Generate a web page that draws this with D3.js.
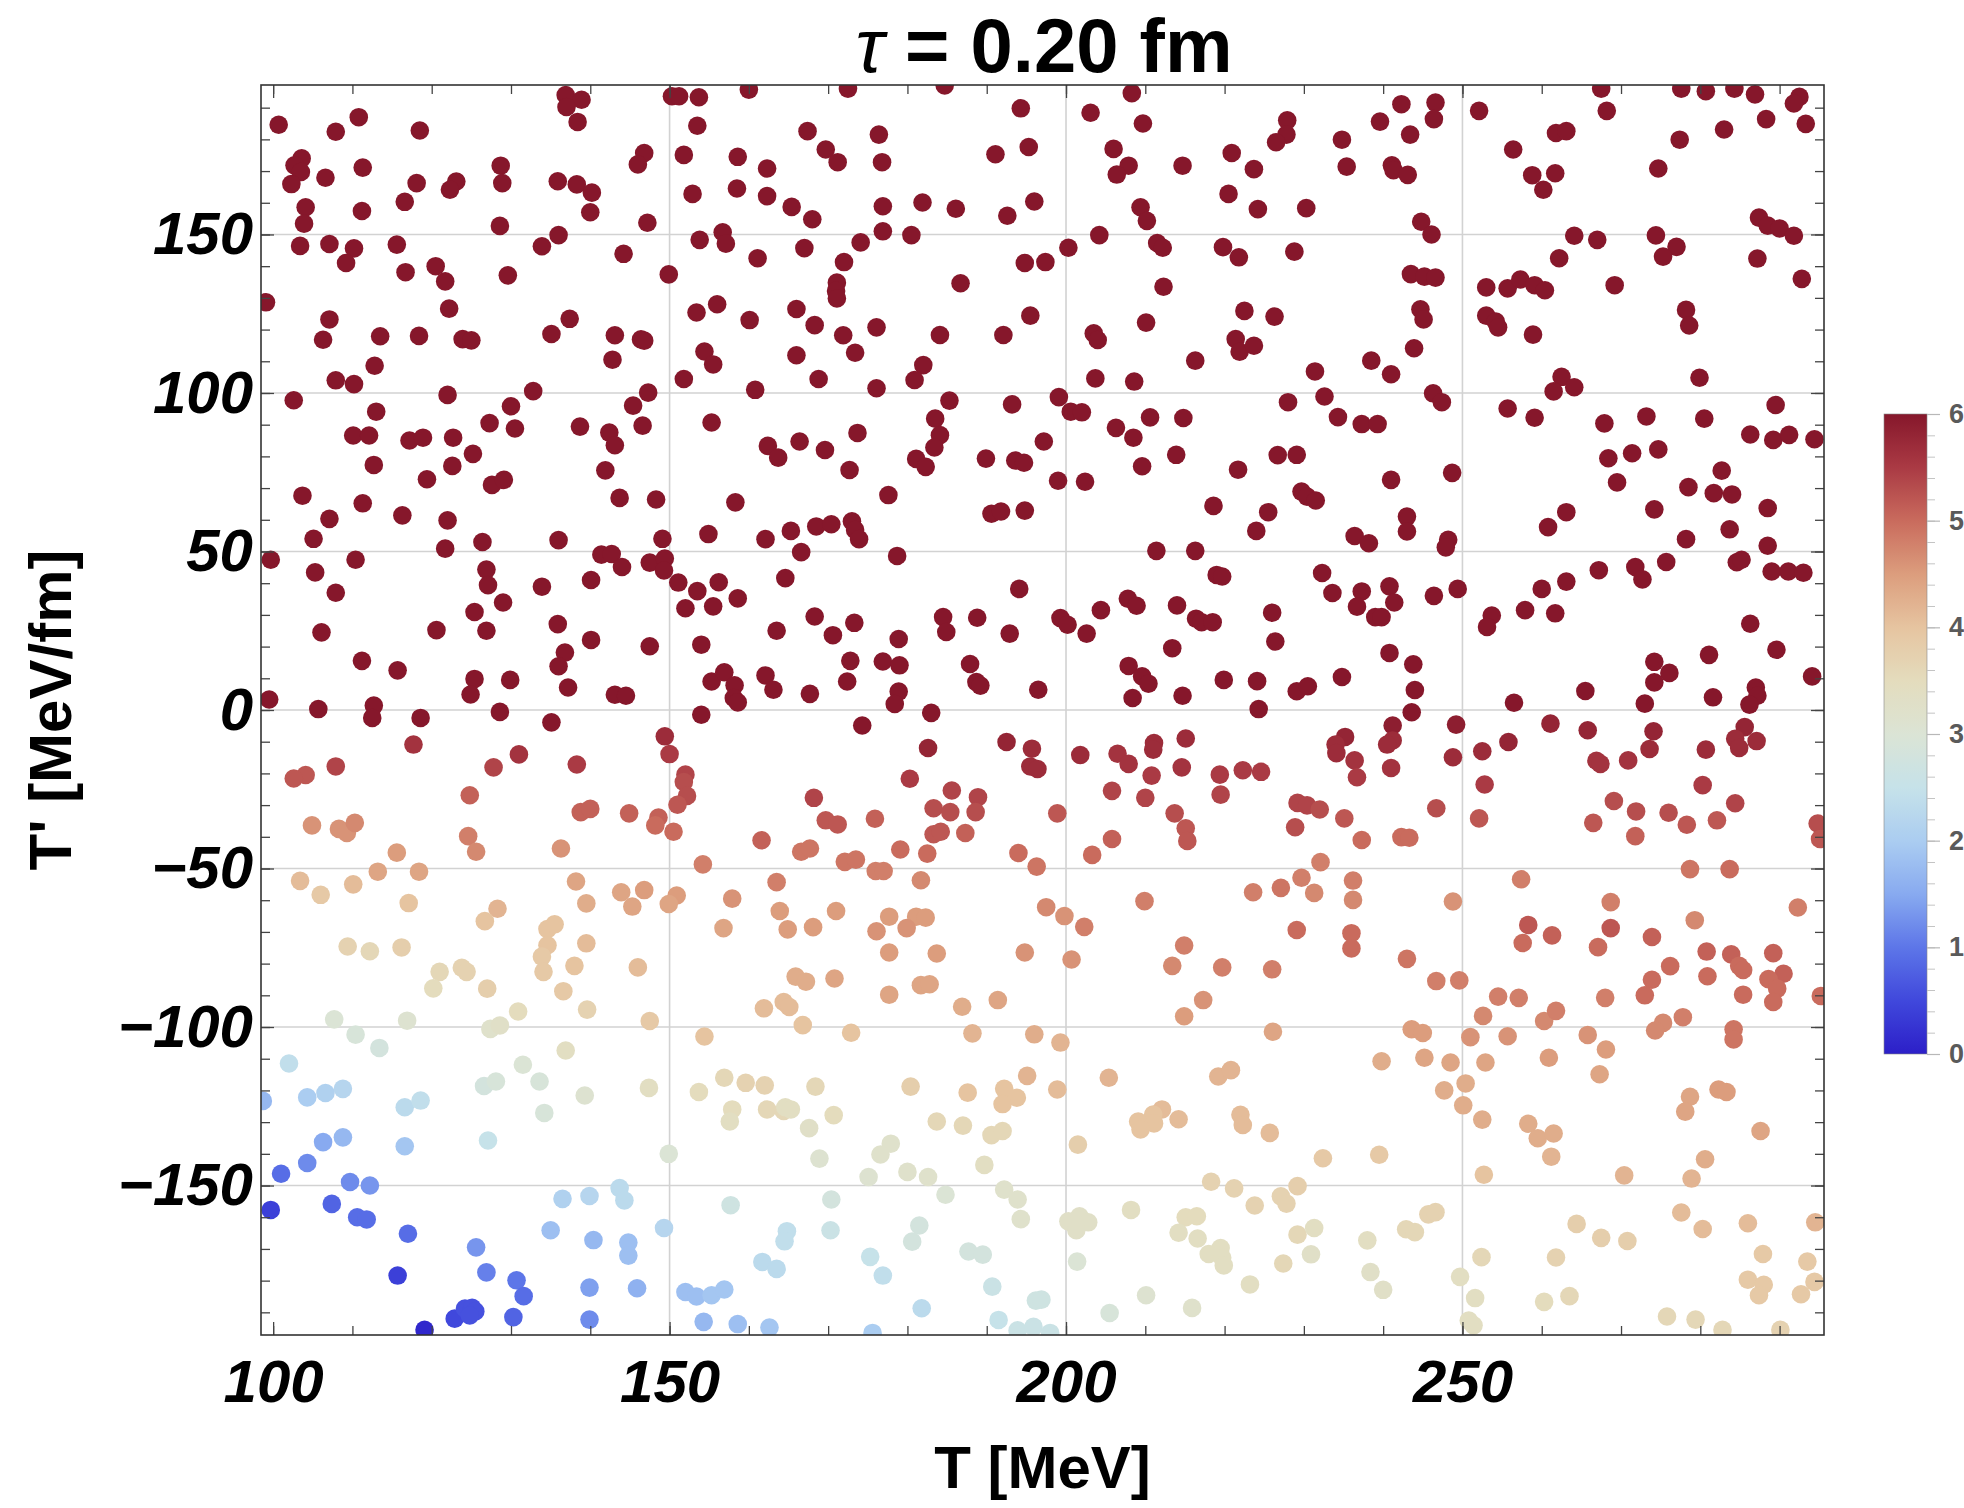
<!DOCTYPE html>
<html><head><meta charset="utf-8">
<script src="https://cdn.jsdelivr.net/npm/d3@7"></script>
<style>body{margin:0;background:#fff;} svg{display:block;font-family:"Liberation Sans",Arial,sans-serif;}</style>
</head><body>
<svg id="chart" width="1964" height="1508"></svg>
<script>
// ---------------- data ----------------
const titleSymbol = "τ";
const titleText = " = 0.20 fm";
const xAxisTitle = "T [MeV]";
const yAxisTitle = "T' [MeV/fm]";
const xTickLabels = [100, 150, 200, 250];
const yTickLabels = [-150, -100, -50, 0, 50, 100, 150];
const xGridValues = [150, 200, 250];
const yGridValues = [-150, -100, -50, 0, 50, 100, 150];
const xMinorTicks = d3.range(100, 300, 10);
const yMinorTicks = d3.range(-190, 200, 10);
const colorbarTicks = [0, 1, 2, 3, 4, 5, 6];
const colorbarMinor = d3.range(0, 6.01, 0.2);
const colorStopValues = [0, 0.5, 1, 1.5, 2, 2.5, 3, 3.5, 4, 4.5, 5, 5.5, 6];
const colorStopColors = ["#2c1fc8","#4048dc","#5d76e8","#88aaf0","#abcdf1","#c6e2e9","#dbe4d5","#e4dcbd","#e6c4a0","#dc9d7d","#c96b5d","#aa3a44","#86172b"];

// each point: [T (MeV), T' (MeV/fm), colour value]
const pointsUpperLeft = [[100.7,184.6,6],[110.8,187,6],[107.9,182.4,6],[118.5,182.8,6],[136.9,194,6],[138.9,192.5,6],[137,190.2,6],[138.4,185.5,6],[150.3,193.6,6],[151.2,193.6,6],[153.7,193.3,6],[160,195.7,6],[153.5,184.3,6],[103.6,174,6],[102.7,171.8,6],[103.5,169.7,6],[102.3,165.9,6],[106.6,167.9,6],[111.3,171.1,6],[104.1,158.6,6],[103.9,153.4,6],[111.2,157.4,6],[116.6,160.3,6],[118.1,166.2,6],[123.1,166.7,6],[122.3,164.1,6],[128.7,171.7,6],[128.9,166.2,6],[128.6,152.7,6],[135.9,166.8,6],[138.3,165.8,6],[140.2,163.2,6],[140,157,6],[146.8,175.7,6],[146,172.1,6],[147.2,153.7,6],[151.8,175.1,6],[152.9,162.8,6],[158.6,174.5,6],[158.5,164.5,6],[162.3,170.8,6],[162.3,162.1,6],[153.8,148.3,6],[156.7,150.7,6],[157.1,147.1,6],[161.1,142.5,6],[103.4,146.4,6],[107.1,147,6],[110.2,145.6,6],[109.2,141,6],[115.6,146.8,6],[116.7,138.1,6],[120.5,140,6],[121.7,135.2,6],[129.6,137.1,6],[133.9,146.3,6],[136,149.8,6],[144.2,143.9,6],[149.9,137.4,6],[99.1,128.6,6],[122.2,126.6,6],[107.1,123.2,6],[106.3,116.8,6],[113.5,117.9,6],[118.4,118,6],[123.9,117,6],[125,116.6,6],[135.1,118.6,6],[137.4,123.4,6],[143.1,118.2,6],[146.4,116.9,6],[146.8,116.5,6],[153.4,125.4,6],[156,128,6],[160.1,123,6],[142.8,110.5,6],[154.4,113.1,6],[155.5,109,6],[151.8,104.4,6],[160.8,101,6],[112.8,108.6,6],[107.9,104,6],[110.2,102.8,6],[102.6,97.7,6],[122,99.4,6],[132.8,100.6,6],[147.3,100.1,6],[145.4,96,6],[113,94.1,6],[130,95.8,6],[127.3,90.5,6],[130.5,88.8,6],[138.7,89.4,6],[142.4,87.5,6],[143.1,83.5,6],[146.6,89.7,6],[155.3,90.7,6],[110.1,86.6,6],[112.1,86.6,6],[117.2,85,6],[118.9,85.9,6],[122.7,85.9,6],[125.2,80.8,6],[112.7,77.3,6],[122.6,77,6],[119.4,72.8,6],[127.6,71,6],[129.1,72.6,6],[141.9,75.6,6],[162.4,83.3,6],[163.7,79.6,6],[103.7,67.6,6],[111.3,65.2,6],[143.7,66.9,6],[148.3,66.4,6],[158.3,65.5,6]];
const pointsUpperMid = [[172.5,196,6],[184.7,197,6],[208.3,194.6,6],[194.3,189.8,6],[203.1,188.4,6],[209.7,185,6],[167.4,182.6,6],[169.7,176.8,6],[171.2,172.8,6],[176.4,181.5,6],[176.8,172.8,6],[191.1,175.3,6],[195.3,177.6,6],[206,177,6],[207.9,171.7,6],[206.4,168.9,6],[214.7,171.7,6],[220.9,175.7,6],[223.7,170.6,6],[227.9,186,6],[227.8,181.5,6],[226.5,179.1,6],[220.5,162.8,6],[224.2,158,6],[165.4,158.7,6],[168,154.8,6],[176.9,158.9,6],[181.9,160.1,6],[186.1,158.1,6],[192.6,155.9,6],[196,160.4,6],[209.4,158.6,6],[210.2,154.3,6],[176.9,151,6],[180.5,149.8,6],[174.1,147.5,6],[167,145.7,6],[172,141.3,6],[204.2,149.8,6],[200.3,145.8,6],[194.8,141,6],[197.4,141.3,6],[211.5,147.3,6],[212.2,145.8,6],[219.8,146,6],[221.8,142.8,6],[228.8,144.6,6],[186.7,134.6,6],[212.3,133.5,6],[171.1,134.8,6],[171,132.2,6],[171.1,129.8,6],[166,126.5,6],[168.3,121.4,6],[171.9,118.2,6],[176.1,120.7,6],[173.4,112.7,6],[166,111.9,6],[168.8,104.4,6],[184.1,118.3,6],[182,108.8,6],[180.9,104.1,6],[176.1,101.5,6],[192.1,118.3,6],[195.5,124.4,6],[203.5,118.8,6],[204,116.7,6],[210.1,122.2,6],[222.5,125.9,6],[226.3,124.1,6],[221.4,117,6],[221.9,113,6],[223.7,114.9,6],[216.3,110.2,6],[203.7,104.6,6],[208.6,103.6,6],[185.3,97.6,6],[183.5,91.9,6],[184.1,86.7,6],[183.4,82.8,6],[181.1,79.2,6],[182.3,76.7,6],[173.7,87.4,6],[166.4,84.7,6],[169.6,82,6],[172.7,75.7,6],[177.6,67.8,6],[193.2,96.4,6],[199.1,98.7,6],[200.6,94.1,6],[202,93.9,6],[189.9,79.3,6],[193.6,78.7,6],[194.7,78,6],[197.2,84.7,6],[199,72.3,6],[202.4,72,6],[206.3,89,6],[208.5,85.9,6],[210.6,92.3,6],[214.8,92.1,6],[209.6,76.9,6],[213.9,80.5,6],[221.7,75.8,6],[228,97.1,6],[226.7,80.4,6],[229.1,80.5,6]];
const pointsUpperRight = [[242.3,191.1,6],[246.6,191.6,6],[246.4,186.4,6],[239.6,185.6,6],[243.4,181.5,6],[234.8,179.9,6],[235.4,171.4,6],[241.1,171.8,6],[241.3,170.3,6],[243.1,168.8,6],[230.3,158.3,6],[244.8,154,6],[246.1,150,6],[252.1,189,6],[256.4,176.8,6],[261.8,182,6],[263.1,182.6,6],[258.8,168.7,6],[261.7,169.3,6],[260.2,164.1,6],[267.5,196,6],[268.2,189,6],[277.6,196,6],[280.7,195.2,6],[284.3,196,6],[286.9,194.2,6],[292.5,193.4,6],[291.8,191.3,6],[288.3,186.4,6],[293.3,184.9,6],[283,183.1,6],[277.4,179.9,6],[274.7,170.8,6],[287.4,155.3,6],[288.5,152.8,6],[290,151.9,6],[291.8,149.6,6],[287.2,142.4,6],[292.8,136,6],[264.1,149.6,6],[267,148.3,6],[262.2,142.5,6],[269.2,134,6],[274.4,149.7,6],[277,146.1,6],[275.3,143,6],[243.5,137.5,6],[245.2,136.7,6],[246.6,136.4,6],[253,133.3,6],[255.7,133,6],[257.3,135.8,6],[259.1,134,6],[260.4,132.4,6],[244.7,126.4,6],[245.1,123.2,6],[253,124.4,6],[254.2,122.5,6],[254.5,120.7,6],[258.9,118.4,6],[278.2,126.2,6],[278.6,121.3,6],[243.9,114.1,6],[238.5,110.2,6],[231.4,106.8,6],[241,105.9,6],[262.5,105.1,6],[261.5,100.5,6],[264.1,101.8,6],[279.9,104.8,6],[232.6,98.9,6],[246.3,99.9,6],[247.4,97.1,6],[234.3,92.4,6],[237.3,90.2,6],[239.3,90.2,6],[255.7,95.1,6],[259.1,92.2,6],[267.9,90.4,6],[273.2,92.6,6],[280.5,91.9,6],[289.5,96.2,6],[286.3,86.9,6],[289.2,85.2,6],[291.2,86.8,6],[294.4,85.4,6],[268.4,79.4,6],[271.4,81,6],[274.7,82.2,6],[282.7,75.5,6],[248.7,74.8,6],[241,72.6,6],[269.5,71.8,6],[278.5,70.3,6],[281.7,68.4,6],[284,68,6],[229.7,68.9,6],[230.4,67.3,6],[231.5,66.1,6]];
const pointsMiddleLeft = [[107.1,60.3,6],[116.3,61.4,6],[122,59.8,6],[105.1,54,6],[121.7,50.9,6],[126.4,53,6],[136,53.6,6],[149.1,54,6],[154.9,55.5,6],[162.1,53.9,6],[99.7,47.4,6],[110.4,47.4,6],[105.3,43.4,6],[107.9,37,6],[126.9,44.3,6],[127.1,39.4,6],[129,33.9,6],[125.4,30.9,6],[126.9,25,6],[133.9,38.9,6],[140.1,41,6],[141.4,49,6],[142.7,49.2,6],[144,45.1,6],[147.5,46.5,6],[149.4,47.8,6],[149.3,44,6],[151.1,40.2,6],[153.5,37.5,6],[156.2,40.3,6],[152,32.1,6],[155.5,32.7,6],[158.6,35.2,6],[106.1,24.5,6],[120.6,25.2,6],[135.9,27.1,6],[140.1,22.1,6],[147.5,20.1,6],[154,20.6,6],[163.5,25,6],[111.2,15.5,6],[115.7,12.5,6],[136.8,18.1,6],[136,13.8,6],[137.2,7.1,6],[125.4,9.8,6],[124.9,4.9,6],[129.9,9.5,6],[143.1,4.8,6],[144.5,4.5,6],[155.3,9,6],[156.9,11.9,6],[158.2,7.8,6],[158.1,3.8,6],[158.6,2.4,6],[162.1,10.9,6],[163.1,6.4,6],[99.5,3.3,6],[105.7,0.3,6],[112.7,1.4,6],[112.5,-2.5,6],[118.6,-2.5,6],[128.6,-0.6,6],[135.1,-3.9,6],[154,-1.5,6],[149.4,-8.3,5.7],[150,-13.9,5.5],[117.7,-10.9,5.6],[131,-14,5.6],[138.3,-17.2,5.5],[127.8,-18.1,5.4],[107.9,-17.8,5.4],[104.1,-20.5,5.2],[102.6,-21.6,5.2],[152,-20.4,5.4],[151.8,-22.7,5.3],[152.2,-27.1,5.3],[151,-29.9,5.2],[124.8,-26.9,5.1],[138.8,-32.2,5.1],[140,-31.2,5.1],[144.9,-32.6,5.1],[148.6,-33.9,5.1],[148.2,-36.4,5],[150.5,-38.4,5],[161.6,-41.1,5.1],[104.9,-36.4,4.6],[108.3,-37.5,4.6],[109.3,-38.8,4.6],[110.3,-35.6,4.7],[124.6,-39.8,4.8],[125.6,-44.7,4.7],[115.6,-45,4.5],[136.3,-43.7,4.6],[154.2,-48.7,4.8],[103.4,-53.9,4.1],[106,-58.3,3.9],[110.1,-55,4.1],[113.2,-51,4.4],[118.4,-51,4.4],[117.1,-60.9,4],[128.3,-62.7,4.2],[138.2,-54.1,4.4],[139.5,-61,4.3],[143.9,-57.5,4.4],[146.8,-56.8,4.5],[145.3,-62,4.4],[150.9,-58.5,4.5],[149.9,-61.2,4.4],[157.9,-59.5,4.6],[163.5,-54.3,4.8],[163.9,-63.4,4.5],[126.7,-66.6,4]];
const pointsMiddleMid = [[165.3,56.5,6],[168.5,57.9,6],[170.4,58.6,6],[173,59.5,6],[173.4,56.8,6],[173.9,53.9,6],[166.6,49.8,6],[178.7,48.6,6],[190.6,61.9,6],[191.8,62.6,6],[194.8,62.9,6],[164.6,41.6,6],[194.1,38.2,6],[168.3,29.5,6],[173.3,27.5,6],[170.6,23.6,6],[178.9,22.4,6],[184.5,29.3,6],[184.9,24.6,6],[188.8,29.1,6],[192.9,24.1,6],[172.8,15.5,6],[176.9,15.3,6],[179,14.1,6],[187.9,14.5,6],[188.7,8.8,6],[189.2,7.7,6],[172.4,9,6],[167.7,5.1,6],[178.9,5.8,6],[178.4,1.9,6],[183,-0.9,6],[196.5,6.4,6],[174.3,-4.9,6],[182.6,-12,5.8],[192.5,-10.1,5.8],[195.7,-12.2,5.7],[195.5,-17.8,5.7],[196.4,-18.6,5.7],[180.3,-21.7,5.5],[168.2,-27.7,5.4],[169.7,-34.8,5.2],[171.2,-36.1,5.2],[175.9,-34.3,5.1],[185.6,-25.4,5.4],[188.9,-27.5,5.4],[183.3,-31,5.3],[185.4,-32.2,5.3],[188.6,-32.2,5.3],[183.3,-39.2,5.2],[184.2,-38.4,5.2],[187.3,-38.8,5.1],[198.9,-32.6,5.2],[166.6,-44.7,4.9],[167.7,-43.7,4.9],[172.1,-47.9,4.9],[173.5,-47.2,4.9],[179.1,-44,5],[182.5,-45.3,5],[176,-50.8,4.8],[177,-50.8,4.8],[194,-45.1,5],[196.3,-49.4,4.9],[181.7,-53.7,4.7],[171,-63.4,4.5],[177.7,-65.2,4.5],[181.1,-65.2,4.5],[182.3,-65.5,4.5],[197.5,-62.2,4.7],[199.8,-65,4.6],[201.8,-14.2,5.7],[206.5,-13.8,5.6],[207.9,-17,5.6],[211.1,-10.4,5.7],[211,-12.5,5.7],[215.1,-9,5.7],[214.6,-18.1,5.6],[210.8,-20.7,5.5],[219.4,-20.4,5.5],[222.3,-19,5.5],[224.6,-19.5,5.5],[219.5,-26.7,5.4],[205.8,-25.5,5.4],[210,-27.7,5.4],[213.7,-32.6,5.3],[215.1,-37.3,5.2],[215.3,-41.3,5.2],[205.8,-40.7,5.1],[203.3,-45.7,5],[229.2,-29.3,5.4],[228.9,-37,5.3],[209.9,-60.3,4.8],[223.6,-57.5,4.8],[227.1,-56.1,4.9],[218.6,64.4,6],[225.5,62.4,6],[224,56.5,6],[211.4,50.2,6],[216.3,50.2,6],[219,42.6,6],[219.7,42.1,6],[207.8,35.1,6],[208.9,32.9,6],[204.4,31.5,6],[199.3,29,6],[200.2,26.9,6],[202.6,24.1,6],[214,33,6],[216.4,28.8,6],[217.1,27.7,6],[218.5,27.7,6],[226,30.7,6],[226.4,21.6,6],[213.4,19.5,6],[207.9,13.9,6],[209.6,10.6,6],[210.4,8.3,6],[208.4,3.8,6],[214.7,4.5,6],[219.9,9.5,6],[224.1,9.1,6],[224.3,0.3,6],[229.1,5.9,6]];
const pointsMiddleRight = [[243,61,6],[236.4,54.9,6],[238.2,52.6,6],[243,56.3,6],[248.2,53.7,6],[247.9,51.3,6],[263.1,62.4,6],[260.8,57.7,6],[274.2,63.3,6],[288.5,63.7,6],[283.7,57,6],[278.2,53.9,6],[288.5,51.8,6],[232.3,43.2,6],[233.6,36.9,6],[237.3,37.4,6],[240.8,39,6],[241.4,33.9,6],[236.7,32.6,6],[239,29.3,6],[239.8,29.3,6],[246.4,36,6],[249.4,38.2,6],[253.7,29.8,6],[253.1,26.2,6],[257.9,31.5,6],[260,38.2,6],[263.1,40.5,6],[261.7,30.5,6],[267.2,44.1,6],[271.8,45.1,6],[272.7,41.2,6],[275.7,46.7,6],[284.6,46.6,6],[285.2,47.4,6],[289,43.7,6],[291.1,43.7,6],[293,43.3,6],[286.3,27.2,6],[289.6,19,6],[281.1,17.4,6],[274.2,15.2,6],[276.1,11.7,6],[274.2,8.7,6],[273,2,6],[281.6,4,6],[287,7.1,6],[287.2,4.5,6],[286.2,1.7,6],[294.1,10.6,6],[240.8,18,6],[243.8,14.4,6],[234.8,10.4,6],[230.5,7.5,6],[244,6.3,6],[243.6,-0.7,6],[256.5,2.3,6],[265.5,6,6],[249.2,-4.6,5.9],[241.2,-4.9,5.9],[235.2,-8.5,5.8],[234,-10.9,5.7],[234.1,-13.6,5.7],[241.2,-9.6,5.7],[240.5,-10.9,5.7],[236.4,-15.9,5.6],[236.7,-21.2,5.5],[241,-18.3,5.6],[248.8,-14.9,5.7],[252.5,-13,5.7],[255.8,-10.1,5.8],[252.8,-23.5,5.5],[261.1,-4.3,5.8],[265.8,-6.4,5.8],[274.1,-6.7,5.8],[285.6,-5.4,5.8],[284.4,-9.1,5.7],[284.9,-12,5.7],[287.1,-9.8,5.7],[280.7,-12.5,5.7],[273.6,-12.3,5.7],[266.9,-16,5.6],[267.4,-17,5.6],[270.9,-15.9,5.6],[280.3,-23.7,5.5],[284.4,-29.4,5.4],[269.1,-28.7,5.3],[271.9,-32,5.3],[276,-32.4,5.3],[282.1,-34.8,5.2],[278.3,-36.2,5.2],[266.5,-35.6,5.2],[271.8,-39.8,5.1],[294.8,-35.8,5.3],[295.1,-40.7,5.2],[230.4,-30.1,5.4],[232,-31.4,5.3],[235.1,-34.2,5.2],[237.3,-41,5],[242.3,-40.1,5],[243.3,-40.3,5],[246.7,-31,5.3],[252.1,-34.2,5.2],[232.1,-48,4.8],[229.7,-52.9,4.8],[231.3,-57.7,4.7],[236.2,-53.8,4.8],[236.2,-59.9,4.7],[248.8,-60.4,4.6],[257.4,-53.4,4.8],[268.7,-60.6,4.8],[278.7,-50.2,4.9],[283.7,-50.2,5],[292.3,-62.3,4.8],[279.3,-66.3,4.7]];
const pointsLowerLeft = [[134.6,-69.1,4],[135.5,-67.6,4],[134.6,-74.2,4],[133.9,-77.8,3.9],[134.1,-82.6,3.9],[109.4,-74.6,3.7],[112.2,-76.1,3.6],[116.2,-74.9,3.8],[121,-82.6,3.6],[123.8,-81.3,3.7],[124.4,-82.6,3.7],[120.2,-87.8,3.5],[127,-87.9,3.8],[139.5,-73.6,4.1],[138,-80.7,4],[146,-81.2,4.1],[136.6,-88.7,3.9],[139.6,-94.5,3.7],[130.9,-95.1,3.5],[147.5,-98.1,3.9],[156.8,-68.8,4.4],[161.9,-94.1,4.1],[107.7,-97.6,3],[116.9,-98,3.1],[127.4,-100.6,3.2],[128.6,-99.5,3.3],[110.4,-102.4,2.9],[113.4,-106.6,2.8],[136.9,-107.4,3.4],[154.4,-103,4],[102,-111.5,2.4],[131.5,-111.9,3],[133.6,-117.2,2.9],[126.6,-118.6,2.8],[128.1,-117.2,2.9],[139.3,-121.6,3.1],[147.4,-119.2,3.4],[153.7,-120.5,3.5],[156.9,-116,3.6],[159.6,-117.6,3.7],[162,-118.4,3.7],[157.9,-126,3.5],[157.6,-129.8,3.4],[162.3,-126,3.6],[164.4,-126.5,3.6],[134.2,-127.1,2.9],[104.3,-122.2,2],[106.6,-120.8,2.1],[108.8,-119.5,2.2],[116.6,-125.3,2.3],[118.6,-123.2,2.4],[98.7,-123.3,1.7],[106.3,-136.3,1.5],[108.8,-134.8,1.7],[116.6,-137.6,1.9],[127.1,-135.8,2.5],[149.9,-140,3],[104.3,-142.9,1.2],[101,-146.3,0.9],[109.7,-148.9,1.2],[112.2,-150,1.3],[99.7,-157.7,0.4],[107.4,-155.8,0.8],[110.6,-160,0.9],[111.8,-160.7,0.9],[117,-165.2,0.9],[115.7,-178.4,0.4],[119.1,-195.5,0.1],[122.9,-192,0.5],[124.2,-188.8,0.6],[125.1,-188.6,0.6],[125.5,-189.7,0.6],[124.8,-191,0.6],[125.6,-169.5,1.3],[126.9,-177.4,1.1],[130.7,-179.9,1],[131.6,-184.9,0.9],[130.3,-191.5,0.8],[135,-164.1,1.8],[136.5,-154.2,2.1],[139.9,-153.3,2.2],[143.7,-150.8,2.3],[144.3,-154.7,2.3],[149.3,-163.4,2.2],[140.4,-167.2,1.7],[144.8,-168,1.8],[144.8,-172.1,1.8],[139.9,-182.2,1.4],[145.9,-182.4,1.6],[139.9,-192.3,1.2],[157.7,-156.2,2.7],[161.7,-174.1,2.3],[163.5,-176.3,2.3],[152,-183.6,1.8],[153.4,-185,1.8],[155.3,-184.6,1.9],[156.9,-182.8,1.9],[154.3,-193,1.7],[158.6,-193.7,1.8],[162.6,-194.8,1.9]];
const pointsLowerMid = [[164.9,-69.2,4.5],[168.1,-68.5,4.5],[176.1,-69.8,4.6],[179.9,-68.8,4.6],[202.3,-68.4,4.8],[229.1,-69.4,5],[177.7,-76.5,4.5],[183.7,-76.8,4.5],[194.8,-76.5,4.6],[200.7,-78.7,4.6],[214.9,-74.3,4.8],[213.4,-80.7,4.7],[219.7,-81.2,4.8],[226,-81.8,4.8],[165.9,-84.1,4.3],[167.2,-85.7,4.3],[170.8,-84.7,4.4],[177.7,-89.8,4.4],[181.7,-86.8,4.4],[182.8,-86.5,4.4],[186.9,-93.6,4.3],[191.4,-91.5,4.4],[217.3,-91.5,4.6],[214.9,-96.6,4.5],[164.4,-92.1,4.1],[165.1,-93.7,4.1],[166.8,-99.4,4],[172.9,-101.8,4],[188.2,-102,4.2],[196,-102.3,4.3],[199.3,-104.9,4.2],[226.1,-101.5,4.4],[205.4,-116,4.2],[219.2,-115.6,4.2],[220.8,-113.6,4.2],[195.1,-115.4,4.2],[198.9,-119.7,4.1],[192.2,-119.5,4],[193.8,-122.3,4],[192,-124.3,4],[187.6,-120.7,4],[180.4,-118.8,3.8],[168.4,-118.8,3.6],[164.6,-125.3,3.4],[165.3,-126,3.4],[170.7,-127.8,3.5],[167.6,-131.9,3.3],[183.7,-129.8,3.6],[187,-131.1,3.6],[190.6,-134.1,3.6],[192,-132.8,3.6],[212.1,-126,4.1],[211,-127.6,4],[209.1,-129.8,4],[211.1,-130.4,4],[209.4,-132.3,4],[214.2,-129.1,4.1],[222,-127.7,4.1],[222.3,-130.9,4.1],[225.7,-133.4,4.1],[201.5,-137.1,3.8],[177.9,-136.8,3.2],[176.6,-140.2,3.2],[168.9,-141.5,3.1],[175.1,-147.3,3.1],[180,-145.7,3.2],[182.6,-147.3,3.2],[189.7,-143.5,3.4],[192.2,-151.3,3.2],[193.9,-154.4,3.2],[194.3,-160.6,3.2],[184.8,-152.9,3],[170.4,-154.4,2.8],[170.3,-164.1,2.6],[164.8,-164.4,2.4],[164.5,-167.6,2.4],[181.5,-162.6,2.8],[180.6,-167.7,2.8],[175.3,-172.5,2.5],[176.9,-178.4,2.4],[187.7,-170.8,2.8],[189.5,-171.8,2.8],[190.7,-181.9,2.6],[181.8,-188.7,2.3],[175.6,-196.5,2],[191.5,-192.4,2.5],[196.2,-186.3,2.7],[196.9,-186,2.7],[193.9,-195.7,2.6],[195.9,-194.6,2.6],[198,-196.5,2.6],[200.3,-161.3,3.3],[201.7,-159.7,3.3],[202.8,-161.6,3.3],[201.3,-164.1,3.3],[201.4,-174,3],[205.5,-190.2,2.9],[210.1,-184.6,3.1],[215.9,-188.6,3.2],[208.2,-157.7,3.4],[215.1,-160,3.5],[216.5,-159.7,3.5],[214.2,-164.9,3.4],[216.6,-166.7,3.4],[219.5,-169.7,3.4],[218,-171.6,3.4],[219.7,-172.8,3.4],[219.9,-175.2,3.4],[223.2,-181.2,3.4],[227.4,-174.6,3.6],[218.3,-148.8,3.7],[221.2,-150.9,3.7],[223.8,-156.3,3.7],[227.1,-153.4,3.7],[227.8,-155.7,3.7],[229.2,-150.2,3.8],[229.2,-165.5,3.6]];
const pointsLowerRight = [[236,-70.4,5],[236,-75.2,5],[243,-78.5,4.9],[246.7,-85.5,4.8],[249.6,-85.3,4.8],[258.3,-67.8,5.2],[257.6,-73.5,5],[261.3,-71.1,5.1],[268.7,-68.8,5.2],[267.1,-74.8,5],[273.9,-71.6,5.1],[280.8,-76.2,5.1],[283.9,-77.1,5.1],[284.9,-80.7,5],[285.4,-82,5],[289.2,-76.7,5.1],[290.5,-83.2,5.1],[288.6,-84.9,5],[289.7,-87.9,5],[289.2,-92.1,5],[285.4,-89.8,5],[280.9,-84,5],[276.2,-80.8,5],[273.9,-85.1,5],[273,-90,5],[268,-90.8,4.8],[254.5,-90.4,4.8],[257.1,-90.8,4.8],[252.6,-96.5,4.7],[260.3,-98.1,4.7],[261.8,-94.9,4.8],[277.8,-96.9,4.8],[275.3,-98.7,4.7],[274.3,-101.1,4.7],[284.2,-100.7,4.9],[284.2,-103.9,4.9],[295.2,-90.2,5],[243.6,-100.7,4.5],[245,-101.9,4.5],[251,-103.2,4.6],[255.7,-102.9,4.6],[265.8,-102.5,4.6],[268.1,-107.1,4.5],[267.3,-114.9,4.4],[260.9,-109.7,4.5],[239.8,-110.8,4.3],[245.2,-109.7,4.4],[248.5,-111.2,4.4],[252.9,-111.2,4.4],[250.4,-117.8,4.3],[247.7,-120,4.3],[250.1,-124.7,4.3],[252.5,-129.2,4.3],[258.3,-130.5,4.3],[259.5,-135.1,4.3],[261.5,-133.6,4.3],[261.2,-140.9,4.2],[278.7,-122,4.4],[278.1,-126.7,4.4],[282.3,-119.7,4.5],[283.3,-120.5,4.5],[287.6,-132.8,4.4],[280.6,-141.7,4.3],[278.9,-147.8,4.2],[270.4,-146.8,4.2],[252.7,-146.6,4],[232.4,-141.4,3.9],[239.5,-140.3,3.9],[277.6,-158.5,4.1],[280.3,-163.7,4.1],[286,-161.9,4.1],[294.5,-161.6,4.2],[264.4,-162.1,3.8],[267.5,-166.5,3.8],[270.8,-167.5,3.8],[245.7,-159.1,3.7],[246.6,-158.4,3.7],[242.9,-163.8,3.6],[244,-164.7,3.6],[231.3,-163.4,3.4],[238,-167.3,3.4],[230.9,-171.7,3.3],[238.4,-177.3,3.3],[240,-182.9,3.3],[252.4,-172.6,3.6],[249.7,-178.8,3.4],[251.6,-185.5,3.4],[250.8,-192.6,3.4],[251.4,-194.1,3.4],[260.3,-186.7,3.5],[263.5,-184.9,3.6],[261.8,-172.7,3.7],[275.8,-191.3,3.6],[279.4,-192.3,3.6],[282.8,-195.5,3.6],[290.1,-195.5,3.7],[287.9,-171.6,3.9],[286,-179.7,3.9],[288,-181.3,3.9],[287.4,-184.6,3.9],[293.5,-174,3.9],[294.4,-180.4,3.9],[292.7,-184.3,3.9]];

// ---------------- drawing ----------------
const allPoints = [].concat(pointsUpperLeft, pointsUpperMid, pointsUpperRight,
  pointsMiddleLeft, pointsMiddleMid, pointsMiddleRight,
  pointsLowerLeft, pointsLowerMid, pointsLowerRight);

const plot = {left: 261, right: 1824, top: 85, bottom: 1335};
const svg = d3.select("#chart");

const x = d3.scaleLinear().domain([98.47, 295.6]).range([plot.left, plot.right]);
const y = d3.scaleLinear().domain([-197.15, 197.15]).range([plot.bottom, plot.top]);
const color = d3.scaleLinear().domain(colorStopValues).range(colorStopColors)
  .interpolate(d3.interpolateRgb).clamp(true);

// grid
const grid = svg.append("g").attr("stroke", "#d2d2d2").attr("stroke-width", 1.6);
grid.selectAll("line.gx").data(xGridValues).join("line")
  .attr("x1", d => x(d)).attr("x2", d => x(d)).attr("y1", plot.top).attr("y2", plot.bottom);
grid.selectAll("line.gy").data(yGridValues).join("line")
  .attr("y1", d => y(d)).attr("y2", d => y(d)).attr("x1", plot.left).attr("x2", plot.right);

// clip
svg.append("defs").append("clipPath").attr("id", "plotClip").append("rect")
  .attr("x", plot.left).attr("y", plot.top)
  .attr("width", plot.right - plot.left).attr("height", plot.bottom - plot.top);

// points
svg.append("g").attr("clip-path", "url(#plotClip)")
  .selectAll("circle").data(allPoints).join("circle")
  .attr("cx", d => x(d[0])).attr("cy", d => y(d[1])).attr("r", 9.3)
  .attr("fill", d => color(d[2]));

// ticks (inward, all four sides)
function tickAxis(gen, tx, ty, vals, size) {
  const g = svg.append("g").attr("transform", `translate(${tx},${ty})`)
    .call(gen.tickValues(vals).tickSize(-size).tickSizeOuter(0).tickFormat(""));
  g.select(".domain").remove();
  g.selectAll(".tick line").attr("stroke", "#444").attr("stroke-width", 1.3);
  return g;
}
const xMajor = [100, 150, 200, 250];
const yMajor = yTickLabels;
tickAxis(d3.axisBottom(x), 0, plot.bottom, xMinorTicks, 9);
tickAxis(d3.axisBottom(x), 0, plot.bottom, xMajor, 13);
tickAxis(d3.axisTop(x), 0, plot.top, xMinorTicks, 9);
tickAxis(d3.axisTop(x), 0, plot.top, xMajor, 13);
tickAxis(d3.axisLeft(y), plot.left, 0, yMinorTicks, 9);
tickAxis(d3.axisLeft(y), plot.left, 0, yMajor, 13);
tickAxis(d3.axisRight(y), plot.right, 0, yMinorTicks, 9);
tickAxis(d3.axisRight(y), plot.right, 0, yMajor, 13);

// frame
svg.append("rect").attr("x", plot.left).attr("y", plot.top)
  .attr("width", plot.right - plot.left).attr("height", plot.bottom - plot.top)
  .attr("fill", "none").attr("stroke", "#333").attr("stroke-width", 1.6);

// tick labels
const xl = svg.append("g").attr("transform", `translate(0,${plot.bottom})`)
  .call(d3.axisBottom(x).tickValues(xTickLabels).tickSize(0).tickPadding(24).tickFormat(d3.format("d")));
xl.select(".domain").remove();
xl.selectAll("text").attr("font-size", 60).attr("font-weight", "bold").attr("font-style", "italic")
  .attr("fill", "#000").attr("font-family", "Liberation Sans, Arial, sans-serif");

const yl = svg.append("g").attr("transform", `translate(${plot.left},0)`)
  .call(d3.axisLeft(y).tickValues(yTickLabels).tickSize(0).tickPadding(8).tickFormat(d3.format("d")));
yl.select(".domain").remove();
yl.selectAll("text").attr("font-size", 60).attr("font-weight", "bold").attr("font-style", "italic")
  .attr("fill", "#000").attr("font-family", "Liberation Sans, Arial, sans-serif");

// title
const title = svg.append("text").attr("x", 1044).attr("y", 72).attr("text-anchor", "middle")
  .attr("font-size", 76).attr("font-weight", "bold").attr("fill", "#000");
title.append("tspan").attr("font-style", "italic").attr("font-weight", "normal").text(titleSymbol);
title.append("tspan").text(titleText);

// axis titles
svg.append("text").attr("x", (plot.left + plot.right) / 2).attr("y", 1488)
  .attr("text-anchor", "middle").attr("font-size", 60).attr("font-weight", "bold").text(xAxisTitle);
svg.append("text").attr("transform", `translate(71,${(plot.top + plot.bottom) / 2}) rotate(-90)`)
  .attr("text-anchor", "middle").attr("font-size", 60).attr("font-weight", "bold").text(yAxisTitle);

// colorbar
const cb = {x: 1884, w: 43, top: 414, bottom: 1054};
const cScale = d3.scaleLinear().domain([0, 6]).range([cb.bottom, cb.top]);
const grad = svg.select("defs").append("linearGradient").attr("id", "cbGrad")
  .attr("x1", 0).attr("y1", 1).attr("x2", 0).attr("y2", 0);
grad.selectAll("stop").data(d3.range(0, 6.001, 0.1)).join("stop")
  .attr("offset", d => d / 6).attr("stop-color", d => color(d));
svg.append("rect").attr("x", cb.x).attr("y", cb.top).attr("width", cb.w)
  .attr("height", cb.bottom - cb.top).attr("fill", "url(#cbGrad)")
  .attr("stroke", "#888").attr("stroke-width", 0.6);

const cbMinor = svg.append("g").attr("transform", `translate(${cb.x + cb.w},0)`)
  .call(d3.axisRight(cScale).tickValues(colorbarMinor).tickSize(8).tickSizeOuter(0).tickFormat(""));
cbMinor.select(".domain").remove();
cbMinor.selectAll(".tick line").attr("stroke", "#c4c4c4").attr("stroke-width", 1);
const cbMajor = svg.append("g").attr("transform", `translate(${cb.x + cb.w},0)`)
  .call(d3.axisRight(cScale).tickValues(colorbarTicks).tickSize(13).tickSizeOuter(0).tickPadding(9).tickFormat(d3.format("d")));
cbMajor.select(".domain").remove();
cbMajor.selectAll(".tick line").attr("stroke", "#b8b8b8").attr("stroke-width", 1.2);
cbMajor.selectAll("text").attr("font-size", 27).attr("font-weight", "bold").attr("fill", "#5a5a5a")
  .attr("font-family", "Liberation Sans, Arial, sans-serif");
</script>
</body></html>
